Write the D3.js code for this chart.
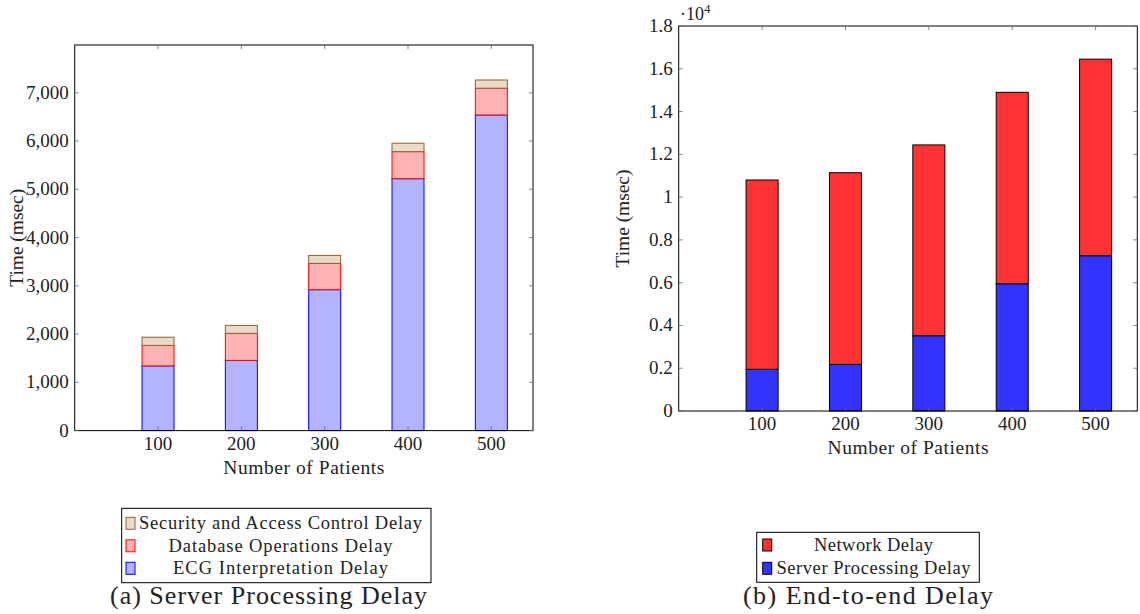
<!DOCTYPE html>
<html><head><meta charset="utf-8">
<script src="https://cdn.jsdelivr.net/npm/d3@7"></script>
<style>
html,body{margin:0;padding:0;background:#fff;}
text{font-family:"Liberation Serif","Times New Roman",serif;fill:#222;}
</style></head>
<body><svg id="c" width="1140" height="614"></svg>
<script>
// ---- data ----
const patients = [100, 200, 300, 400, 500];
// (a) server processing delay components (msec)
const ecgInterpretation = [1340, 1455, 2920, 5220, 6540];
const databaseOperations = [425, 560, 545, 560, 555];
const securityAccess = [170, 165, 165, 175, 170];
// (b) end-to-end delay components (msec)
const serverProcessing = [1950, 2180, 3520, 5950, 7260];
const networkDelay = [8850, 8960, 8920, 8950, 9190];
const leftTicks = [0, 1000, 2000, 3000, 4000, 5000, 6000, 7000];
const rightTicks = [0, 2000, 4000, 6000, 8000, 10000, 12000, 14000, 16000, 18000];

const svg = d3.select("#c");

function fitText(sel, w) {
  sel.attr("textLength", w).attr("lengthAdjust", "spacing");
  return sel;
}

function chart(o) {
  const g = svg.append("g");
  const x = d3.scaleLinear().domain([0, 550]).range([o.left, o.right]);
  const y = d3.scaleLinear().domain([0, o.ymax]).range([o.bottom, o.top]);
  const rows = patients.map((p, i) => {
    const r = {p};
    o.series.forEach(s => r[s.key] = s.values[i]);
    return r;
  });
  const stack = d3.stack().keys(o.series.map(s => s.key))(rows);
  const bw = x(38.4) - x(0);
  stack.forEach((layer, li) => {
    const s = o.series[li];
    g.selectAll(null).data(layer).enter().append("rect")
      .attr("x", d => x(d.data.p) - bw / 2)
      .attr("width", bw)
      .attr("y", d => y(d[1]))
      .attr("height", d => y(d[0]) - y(d[1]))
      .attr("fill", s.fill)
      .attr("stroke", s.stroke)
      .attr("stroke-width", 1);
  });
  // frame
  g.append("rect").attr("x", o.left).attr("y", o.top)
    .attr("width", o.right - o.left).attr("height", o.bottom - o.top)
    .attr("fill", "none").attr("stroke", "#000").attr("stroke-width", 1);
  // ticks inward on all sides
  const tl = 4;
  patients.forEach(p => {
    g.append("line").attr("x1", x(p)).attr("x2", x(p)).attr("y1", o.top).attr("y2", o.top + tl).attr("stroke", "#666").attr("stroke-width", 0.8);
    g.append("line").attr("x1", x(p)).attr("x2", x(p)).attr("y1", o.bottom).attr("y2", o.bottom - tl).attr("stroke", "#666").attr("stroke-width", 0.8);
  });
  o.ticks.forEach(t => {
    g.append("line").attr("x1", o.left).attr("x2", o.left + tl).attr("y1", y(t)).attr("y2", y(t)).attr("stroke", "#666").attr("stroke-width", 0.8);
    g.append("line").attr("x1", o.right).attr("x2", o.right - tl).attr("y1", y(t)).attr("y2", y(t)).attr("stroke", "#666").attr("stroke-width", 0.8);
  });
  // tick labels
  g.selectAll(null).data(patients).enter().append("text")
    .attr("x", d => x(d)).attr("y", o.bottom + 19)
    .attr("text-anchor", "middle").attr("font-size", 19).text(d => d);
  g.selectAll(null).data(o.ticks).enter().append("text")
    .attr("x", o.left - 6).attr("y", d => y(d) + 6)
    .attr("text-anchor", "end").attr("font-size", 19).text(o.fmt);
  // axis labels
  fitText(g.append("text").attr("x", (o.left + o.right) / 2 - 80.5).attr("y", o.bottom + 43)
    .attr("font-size", 19.5).text("Number of Patients"), 161);
  fitText(g.append("text").attr("transform", `translate(${o.ylabX},${(o.top + o.bottom) / 2 + 49}) rotate(-90)`)
    .attr("font-size", 19.5).text("Time (msec)"), 98);
  // legend
  const L = o.legend;
  g.append("rect").attr("x", L.x0).attr("y", L.y0).attr("width", L.x1 - L.x0).attr("height", L.y1 - L.y0)
    .attr("fill", "#fff").attr("stroke", "#000").attr("stroke-width", 1);
  L.items.forEach((it, i) => {
    const cy = L.firstY + i * L.dy;
    g.append("rect").attr("x", L.sx).attr("y", cy - 6).attr("width", 9).attr("height", 12)
      .attr("fill", it.fill).attr("stroke", it.stroke).attr("stroke-width", 1);
    fitText(g.append("text").attr("x", L.tx - it.w / 2).attr("y", cy + 6)
      .attr("font-size", 18.5).text(it.label), it.w);
  });
  fitText(g.append("text").attr("x", o.capX - o.capW / 2).attr("y", 604)
    .attr("font-size", 26).text(o.caption), o.capW);
  return {x, y};
}

const cBlue30 = "#b3b3ff", cRed30 = "#ffb3b3", cBrown30 = "#ecd9c6";
chart({
  left: 74.7, right: 533, top: 45, bottom: 430.6, ymax: 7990, ticks: leftTicks,
  fmt: d3.format(","), ylabX: 23,
  series: [
    {key: "ecg", values: ecgInterpretation, fill: cBlue30, stroke: "#0000ff"},
    {key: "db", values: databaseOperations, fill: cRed30, stroke: "#ff0000"},
    {key: "sec", values: securityAccess, fill: cBrown30, stroke: "#8c6239"}
  ],
  legend: {x0: 121.7, x1: 431, y0: 508.3, y1: 582.7, firstY: 523.3, dy: 22.5, sx: 126, tx: 280.5,
    items: [
      {label: "Security and Access Control Delay", w: 283, fill: cBrown30, stroke: "#8c6239"},
      {label: "Database Operations Delay", w: 224, fill: cRed30, stroke: "#ff0000"},
      {label: "ECG Interpretation Delay", w: 215, fill: cBlue30, stroke: "#0000ff"}
    ]},
  capX: 268.5, capW: 317, caption: "(a) Server Processing Delay"
});
const cRed80 = "#ff3333", cBlue80 = "#3333ff";
chart({
  left: 678.7, right: 1137.3, top: 26, bottom: 411, ymax: 18000, ticks: rightTicks,
  fmt: d => d3.format("")(+(d / 10000).toFixed(1)), ylabX: 629,
  series: [
    {key: "srv", values: serverProcessing, fill: cBlue80, stroke: "#000"},
    {key: "net", values: networkDelay, fill: cRed80, stroke: "#000"}
  ],
  legend: {x0: 756.7, x1: 979.3, y0: 532.3, y1: 582.3, firstY: 545, dy: 23.3, sx: 762.7, tx: 873.5,
    items: [
      {label: "Network Delay", w: 119, fill: cRed80, stroke: "#000"},
      {label: "Server Processing Delay", w: 194, fill: cBlue80, stroke: "#000"}
    ]},
  capX: 868, capW: 250, caption: "(b) End-to-end Delay"
});
// exponent marker
const ex = svg.append("text").attr("x", 680).attr("y", 20).attr("font-size", 18);
ex.append("tspan").text("·10");
ex.append("tspan").attr("font-size", 13).attr("dy", -7).text("4");
</script></body></html>
